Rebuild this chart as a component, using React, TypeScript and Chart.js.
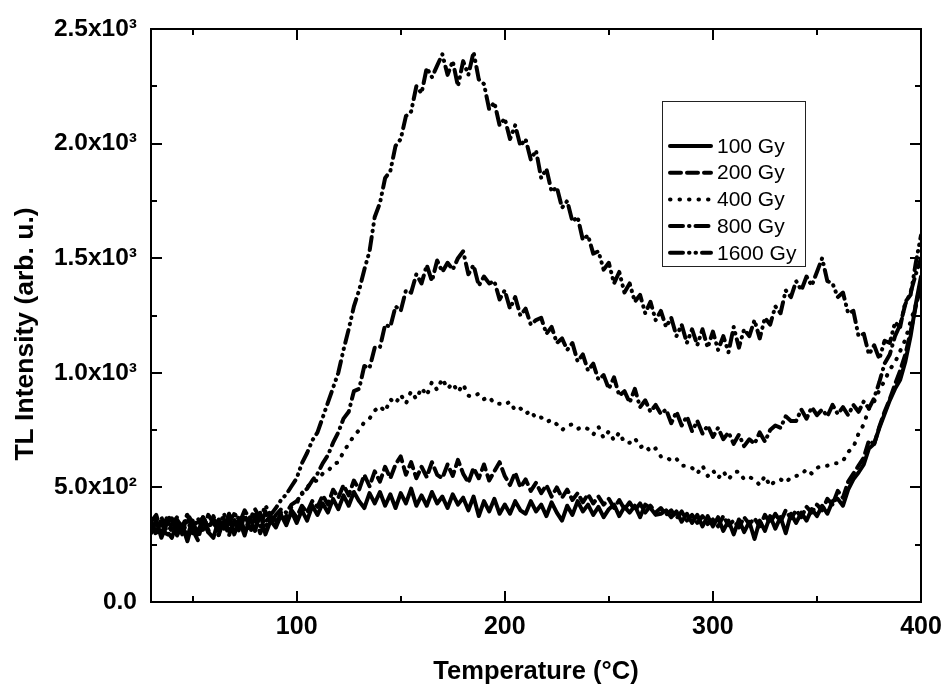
import { useEffect, useRef } from "react";
import { Chart, registerables } from "chart.js";

Chart.register(...registerables);

// Temperature (°C), sampled every 2.5 °C
const temperatures = [
  30, 32.5, 35, 37.5, 40, 42.5, 45, 47.5, 50, 52.5, 55, 57.5, 60, 62.5, 65, 67.5,
  70, 72.5, 75, 77.5, 80, 82.5, 85, 87.5, 90, 92.5, 95, 97.5, 100, 102.5, 105, 107.5,
  110, 112.5, 115, 117.5, 120, 122.5, 125, 127.5, 130, 132.5, 135, 137.5, 140, 142.5, 145, 147.5,
  150, 152.5, 155, 157.5, 160, 162.5, 165, 167.5, 170, 172.5, 175, 177.5, 180, 182.5, 185, 187.5,
  190, 192.5, 195, 197.5, 200, 202.5, 205, 207.5, 210, 212.5, 215, 217.5, 220, 222.5, 225, 227.5,
  230, 232.5, 235, 237.5, 240, 242.5, 245, 247.5, 250, 252.5, 255, 257.5, 260, 262.5, 265, 267.5,
  270, 272.5, 275, 277.5, 280, 282.5, 285, 287.5, 290, 292.5, 295, 297.5, 300, 302.5, 305, 307.5,
  310, 312.5, 315, 317.5, 320, 322.5, 325, 327.5, 330, 332.5, 335, 337.5, 340, 342.5, 345, 347.5,
  350, 352.5, 355, 357.5, 360, 362.5, 365, 367.5, 370, 372.5, 375, 377.5, 380, 382.5, 385, 387.5,
  390, 392.5, 395, 397.5, 400,
];

const dose100 = [
  300, 355, 280, 340, 365, 290, 335, 265, 350, 295, 370, 305, 280, 360, 320, 385,
  295, 355, 290, 370, 310, 385, 295, 355, 325, 380, 335, 395, 345, 400, 355, 420,
  380, 430, 390, 450, 405, 465, 420, 480, 440, 410, 475, 430, 480, 420, 470, 410,
  475, 430, 495, 420, 465, 420, 480, 430, 460, 410, 470, 425, 455, 400, 460, 375,
  440, 395, 450, 385, 425, 385, 440, 400, 385, 440, 395, 425, 375, 435, 390, 355,
  420, 380, 440, 395, 425, 380, 415, 370, 405, 425, 375, 415, 390, 420, 370, 425,
  410, 380, 385, 400, 370, 395, 350, 385, 345, 380, 330, 375, 330, 370, 310, 355,
  295, 360, 305, 350, 275, 355, 310, 375, 320, 370, 300, 385, 345, 390, 355, 405,
  375, 420, 385, 440, 450, 420, 490, 535, 565, 600, 670, 690, 760, 820, 880, 930,
  970, 1050, 1160, 1300, 1420,
];

const dose200 = [
  345, 290, 370, 310, 280, 345, 300, 380, 315, 270, 355, 305, 375, 310, 350, 290,
  360, 305, 380, 325, 365, 300, 350, 375, 340, 390, 345, 400, 370, 420, 390, 440,
  415, 465, 425, 490, 455, 510, 465, 530, 490, 555, 505, 570, 525, 590, 540, 600,
  635, 555, 610, 540, 590, 545, 610, 555, 540, 600, 550, 620, 560, 520, 585, 540,
  600, 530, 570, 610, 550, 510, 565, 500, 535, 485, 520, 475, 510, 460, 500, 455,
  490, 445, 475, 435, 470, 430, 460, 425, 450, 410, 445, 405, 435, 400, 430, 390,
  420, 390, 410, 380, 400, 365, 395, 355, 380, 345, 375, 340, 360, 330, 375, 335,
  355, 325, 370, 340, 365, 330, 380, 345, 385, 350, 400, 365, 400, 370, 415, 390,
  425, 400, 450, 425, 485, 455, 525, 560, 595, 630, 705, 690, 765, 830, 885, 950,
  1010, 1080, 1180, 1290, 1380,
];

const dose400 = [
  325, 370, 295, 355, 380, 310, 360, 290, 355, 300, 380, 315, 360, 290, 370, 320,
  385, 320, 365, 300, 355, 390, 325, 380, 355, 400, 375, 415, 430, 475, 500, 525,
  530, 560, 570, 600, 610, 655, 690, 725, 750, 785, 800, 835, 855, 830, 885, 865,
  905, 865, 920, 885, 935, 900, 960, 925, 975, 930, 955, 915, 950, 900, 895, 910,
  885, 895, 865, 865, 860, 875, 835, 845, 820, 835, 800, 805, 785, 795, 775, 750,
  770, 775, 755, 765, 755, 730, 765, 715, 745, 705, 740, 695, 695, 715, 675, 685,
  655, 670, 635, 635, 615, 625, 595, 595, 585, 560, 595, 550, 575, 540, 570, 535,
  565, 570, 535, 545, 535, 510, 550, 505, 530, 535, 520, 545, 550, 555, 580, 560,
  585, 595, 595, 605, 605, 615, 655, 675, 735, 775, 845, 875, 925, 965, 1015, 1045,
  1095, 1145, 1225, 1295, 1400,
];

const dose800 = [
  355, 300, 350, 285, 340, 370, 295, 355, 300, 365, 315, 380, 345, 290, 360, 310,
  340, 375, 310, 365, 380, 330, 395, 345, 380, 405, 390, 425, 440, 470, 495, 530,
  560, 605, 640, 695, 740, 800, 830, 920, 930, 1030, 1020, 1110, 1110, 1210, 1200, 1290,
  1270, 1360, 1350, 1430, 1390, 1470, 1400, 1490, 1440, 1480, 1450, 1500, 1530, 1430, 1470, 1380,
  1420, 1390, 1400, 1320, 1360, 1280, 1330, 1250, 1280, 1210, 1230, 1240, 1170, 1200, 1130, 1150,
  1100, 1130, 1050, 1080, 1010, 1040, 970, 990, 930, 980, 900, 920, 870, 930, 850, 880,
  830, 860, 820, 840, 780, 830, 770, 810, 745, 790, 735, 770, 720, 760, 710, 740,
  690, 730, 680, 710, 690, 740, 700, 750, 770, 760, 810, 790, 790, 840, 800, 850,
  815, 840, 810, 860, 820, 850, 815, 860, 830, 875, 845, 890, 960, 1040, 1080, 1160,
  1210, 1300, 1350, 1430, 1500,
];

const dose1600 = [
  350, 380, 310, 365, 305, 360, 325, 385, 345, 295, 370, 325, 370, 320, 385, 340,
  390, 345, 400, 360, 405, 365, 420, 380, 410, 445, 470, 505, 540, 605, 650, 705,
  740, 805, 870, 935, 1000, 1100, 1190, 1290, 1360, 1450, 1530, 1680, 1740, 1850, 1880, 1990,
  2020, 2120, 2140, 2250, 2220, 2330, 2290, 2340, 2390, 2300, 2360, 2250, 2360, 2300, 2400, 2280,
  2260, 2150, 2180, 2080, 2110, 2020, 2080, 1990, 2020, 1930, 1970, 1850, 1890, 1790, 1810, 1720,
  1750, 1660, 1680, 1580, 1600, 1520, 1530, 1450, 1480, 1390, 1440, 1350, 1390, 1310, 1340, 1260,
  1310, 1230, 1270, 1200, 1240, 1160, 1210, 1130, 1190, 1120, 1190, 1110, 1180, 1100, 1160, 1090,
  1200, 1110, 1190, 1160, 1230, 1150, 1240, 1210, 1290, 1260, 1360, 1330, 1400, 1360, 1420, 1380,
  1440, 1500, 1400, 1390, 1330, 1350, 1260, 1270, 1160, 1170, 1080, 1120, 1060, 1140, 1130, 1220,
  1200, 1310, 1340, 1480, 1600,
];

const seriesLabels = ["100 Gy", "200 Gy", "400 Gy", "800 Gy", "1600 Gy"];

const xTickValues = [100, 200, 300, 400];
const xTickLabels = ["100", "200", "300", "400"];
const xMinorTicks = [50, 150, 250, 350];
const yTickValues = [0, 500, 1000, 1500, 2000, 2500];
const yTickLabels = ["0.0", "5.0x10²", "1.0x10³", "1.5x10³", "2.0x10³", "2.5x10³"];
const yMinorTicks = [250, 750, 1250, 1750, 2250];

const FONT = "'Liberation Sans', Arial, Helvetica, sans-serif";

const dashes: number[][] = [
  [],
  [11, 6],
  [0.5, 9],
  [13, 6, 0.5, 6],
  [13, 6, 0.5, 6, 0.5, 6],
];

const framePlugin = {
  id: "frameTicks",
  afterDatasetsDraw(chart: any) {
    const { ctx, chartArea } = chart;
    const xs = chart.scales.x;
    const ys = chart.scales.y;
    const { left, right, top, bottom } = chartArea;
    ctx.save();
    ctx.strokeStyle = "#000";
    ctx.lineWidth = 2;
    ctx.setLineDash([]);
    ctx.strokeRect(left, top, right - left, bottom - top);
    const major = 11;
    const minor = 6;
    ctx.beginPath();
    const xt = (v: number, len: number) => {
      const px = Math.round(xs.getPixelForValue(v));
      ctx.moveTo(px, bottom);
      ctx.lineTo(px, bottom - len);
      ctx.moveTo(px, top);
      ctx.lineTo(px, top + len);
    };
    const yt = (v: number, len: number) => {
      const py = Math.round(ys.getPixelForValue(v));
      ctx.moveTo(left, py);
      ctx.lineTo(left + len, py);
      ctx.moveTo(right, py);
      ctx.lineTo(right - len, py);
    };
    xTickValues.forEach((v) => xt(v, major));
    xMinorTicks.forEach((v) => xt(v, minor));
    yTickValues.forEach((v) => yt(v, major));
    yMinorTicks.forEach((v) => yt(v, minor));
    ctx.stroke();
    ctx.restore();
  },
  afterDraw(chart: any) {
    const { ctx, chartArea } = chart;
    ctx.save();
    ctx.fillStyle = "#000";
    // Axis titles
    ctx.font = `bold 25.5px ${FONT}`;
    ctx.textAlign = "center";
    ctx.textBaseline = "middle";
    ctx.fillText("Temperature (°C)", (chartArea.left + chartArea.right) / 2, 672);
    ctx.save();
    ctx.translate(26, 334);
    ctx.rotate(-Math.PI / 2);
    ctx.font = `bold 26.5px ${FONT}`;
    ctx.fillText("TL Intensity (arb. u.)", 0, 0);
    ctx.restore();

    // Legend
    const bx = 662, by = 101, bw = 143, bh = 165;
    ctx.fillStyle = "#fff";
    ctx.fillRect(bx, by, bw, bh);
    ctx.strokeStyle = "#222";
    ctx.lineWidth = 1;
    ctx.strokeRect(bx + 0.5, by + 0.5, bw, bh);
    ctx.font = `21px ${FONT}`;
    ctx.textAlign = "left";
    ctx.textBaseline = "middle";
    chart.data.datasets.forEach((ds: any, i: number) => {
      const y = 146 + i * 26.7;
      ctx.strokeStyle = "#000";
      ctx.lineWidth = 4;
      ctx.lineCap = "round";
      ctx.setLineDash(ds.borderDash || []);
      ctx.beginPath();
      ctx.moveTo(670, y);
      ctx.lineTo(711, y);
      ctx.stroke();
      ctx.setLineDash([]);
      ctx.fillStyle = "#000";
      ctx.fillText(ds.label, 717, y + 1);
    });
    ctx.restore();
  },
};

export default function App() {
  const ref = useRef<HTMLCanvasElement>(null);

  useEffect(() => {
    document.body.style.margin = "0";
    const series = [dose100, dose200, dose400, dose800, dose1600];
    const datasets = series.map((vals, i) => ({
      label: seriesLabels[i],
      data: temperatures.map((t, j) => ({ x: t, y: vals[j] })),
      borderColor: "#000",
      backgroundColor: "#000",
      borderWidth: 4,
      borderDash: dashes[i],
      borderCapStyle: "round" as const,
      borderJoinStyle: "round" as const,
      pointRadius: 0,
      tension: 0,
      fill: false,
    }));

    const chart = new Chart(ref.current as HTMLCanvasElement, {
      type: "line",
      data: { datasets },
      plugins: [framePlugin],
      options: {
        responsive: false,
        animation: false,
        events: [],
        layout: { padding: { top: 29, right: 26, bottom: 0, left: 0 } },
        plugins: {
          legend: { display: false },
          tooltip: { enabled: false },
        },
        scales: {
          x: {
            type: "linear",
            min: 30,
            max: 400,
            grid: { display: false, drawTicks: false },
            border: { display: false },
            afterBuildTicks: (scale: any) => {
              scale.ticks = xTickValues.map((v) => ({ value: v }));
            },
            afterFit: (scale: any) => {
              scale.height = 84;
              scale.paddingLeft = 0;
              scale.paddingRight = 0;
            },
            ticks: {
              autoSkip: false,
              maxRotation: 0,
              padding: 10,
              color: "#000",
              font: { family: FONT, size: 25, weight: "bold" },
              callback: (v: any) => {
                const k = xTickValues.indexOf(Number(v));
                return k >= 0 ? xTickLabels[k] : "";
              },
            },
          },
          y: {
            type: "linear",
            min: 0,
            max: 2500,
            grid: { display: false, drawTicks: false },
            border: { display: false },
            afterBuildTicks: (scale: any) => {
              scale.ticks = yTickValues.map((v) => ({ value: v }));
            },
            afterFit: (scale: any) => {
              scale.width = 151;
              scale.paddingTop = 0;
              scale.paddingBottom = 0;
            },
            ticks: {
              autoSkip: false,
              padding: 14,
              color: "#000",
              font: { family: FONT, size: 24.5, weight: "bold" },
              callback: (v: any) => {
                const k = yTickValues.indexOf(Number(v));
                return k >= 0 ? yTickLabels[k] : "";
              },
            },
          },
        },
      } as any,
    });
    return () => chart.destroy();
  }, []);

  return (
    <div style={{ width: 947, height: 686 }}>
      <canvas ref={ref} width={947} height={686} style={{ display: "block" }} />
    </div>
  );
}
